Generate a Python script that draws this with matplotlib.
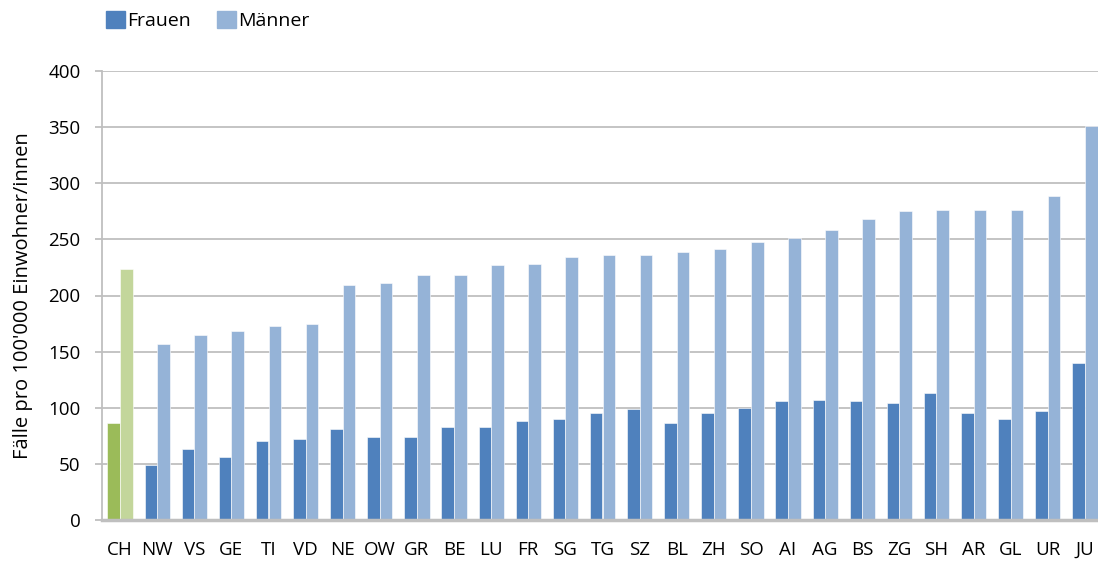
import matplotlib
matplotlib.use("Agg")
import matplotlib.pyplot as plt
import numpy as np
from matplotlib.patches import Patch

categories = ["CH", "NW", "VS", "GE", "TI", "VD", "NE", "OW", "GR", "BE", "LU", "FR", "SG", "TG",
              "SZ", "BL", "ZH", "SO", "AI", "AG", "BS", "ZG", "SH", "AR", "GL", "UR", "JU"]
frauen = [86, 49, 63, 56, 70, 72, 81, 74, 74, 83, 83, 88, 90, 95,
          99, 86, 95, 100, 106, 107, 106, 104, 113, 95, 90, 97, 140]
maenner = [224, 157, 165, 168, 173, 175, 209, 211, 218, 218, 227, 228, 234, 236,
           236, 239, 241, 248, 251, 258, 268, 275, 276, 276, 276, 289, 351]
yticks = [0, 50, 100, 150, 200, 250, 300, 350, 400]

c_f = "#4F81BD"
c_m = "#95B3D7"
c_chf = "#9BBB59"
c_chm = "#C3D69B"

plt.rcParams['font.family'] = ['Open Sans', 'DejaVu Sans']
FS = 13.5

W, H = 1098, 562
fig = plt.figure(figsize=(W / 100, H / 100), dpi=100)
ax = fig.add_axes([101.5 / W, 42 / H, 1002 / W, 449 / H])

x = np.arange(len(categories))
bw = 0.34
cf = [c_chf] + [c_f] * (len(categories) - 1)
cm = [c_chm] + [c_m] * (len(categories) - 1)
ax.bar(x - bw / 2, frauen, bw, color=cf, edgecolor="#FFFFFF", linewidth=0.4, zorder=3)
ax.bar(x + bw / 2, maenner, bw, color=cm, edgecolor="#FFFFFF", linewidth=0.4, zorder=3)

ax.set_xlim(-0.5, len(categories) - 0.5)
ax.set_ylim(0, 400)
ax.set_yticks(yticks)
ax.set_yticklabels([str(v) for v in yticks], fontsize=FS)
ax.set_xticks(x)
ax.set_xticklabels(categories, fontsize=FS)
ax.yaxis.grid(True, color="#BFBFBF", linewidth=1.3, zorder=0)
ax.set_axisbelow(True)

for s in ["top", "right"]:
    ax.spines[s].set_visible(False)
ax.spines["left"].set_color("#BFBFBF")
ax.spines["left"].set_linewidth(1.3)
ax.spines["bottom"].set_color("#BFBFBF")
ax.spines["bottom"].set_linewidth(2.5)
ax.spines["bottom"].set_zorder(4)
ax.tick_params(axis="y", length=5, width=1.3, color="#BFBFBF", pad=10)
ax.tick_params(axis="x", length=0, pad=15)

ax.set_ylabel("Fälle pro 100'000 Einwohner/innen", fontsize=14.5, labelpad=11)

handles = [Patch(color=c_f, label="Frauen"), Patch(color=c_m, label="Männer")]
fig.legend(handles=handles, loc="upper left", bbox_to_anchor=(95 / W, 1.0), ncol=2,
           frameon=False, fontsize=14, handlelength=1.0, handleheight=1.0,
           handletextpad=0.12, columnspacing=1.3, borderaxespad=0.15)

fig.savefig("out.png", dpi=100)
